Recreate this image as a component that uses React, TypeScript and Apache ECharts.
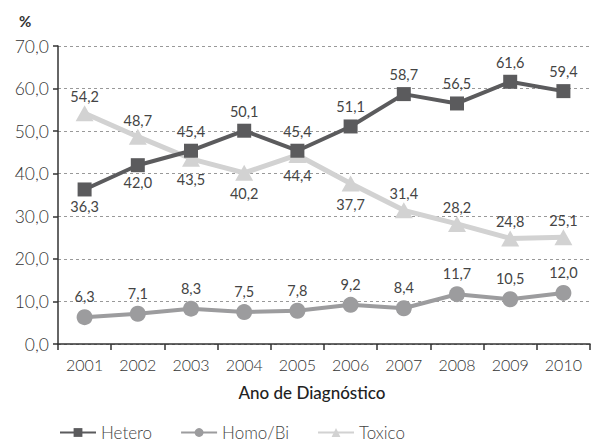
import React, { useEffect, useRef } from "react";
import * as echarts from "echarts";

const years = ["2001", "2002", "2003", "2004", "2005", "2006", "2007", "2008", "2009", "2010"];
const hetero = [36.3, 42.0, 45.4, 50.1, 45.4, 51.1, 58.7, 56.5, 61.6, 59.4];
const homoBi = [6.3, 7.1, 8.3, 7.5, 7.8, 9.2, 8.4, 11.7, 10.5, 12.0];
const toxico = [54.2, 48.7, 43.5, 40.2, 44.4, 37.7, 31.4, 28.2, 24.8, 25.1];
const heteroBelow = [true, true, false, false, false, false, false, false, false, false];
const toxicoBelow = [false, false, true, true, true, true, false, false, false, false];

const FONT = "Lato";
const LABEL_COLOR = "#444444";
const fmt = (v: number) => v.toFixed(1).replace(".", ",");

export default function App() {
  const ref = useRef<HTMLDivElement>(null);
  useEffect(() => {
    if (!ref.current) return;
    const chart = echarts.init(ref.current, null, { renderer: "svg" });
    const lbl = (position: string, distance: number) => ({
      show: true,
      position,
      distance,
      color: LABEL_COLOR,
      textBorderWidth: 0,
      fontSize: 14.5,
      fontFamily: FONT,
      fontWeight: "normal" as any,
    });
    const labelBase = {
      show: true,
      color: LABEL_COLOR,
      fontSize: 14.5,
      fontFamily: FONT,
      formatter: (p: any) => fmt(p.value),
    };
    chart.setOption({
      animation: false,
      backgroundColor: "#ffffff",
      textStyle: { fontFamily: FONT },
      grid: { left: 58, right: 1, top: 46, bottom: 104, containLabel: false },
      title: {
        text: "%",
        left: 14,
        top: 8,
        textStyle: { fontSize: 15, fontWeight: "bold", color: "#333", fontFamily: FONT },
      },
      graphic: [
        {
          type: "text",
          x: 312,
          y: 392,
          style: {
            text: "Ano de Diagnóstico",
            fontSize: 17,
            fontFamily: FONT,
            fontWeight: 500 as any,
            fill: "#222",
            align: "center",
            verticalAlign: "middle",
          },
        },
      ],
      legend: {
        bottom: 2,
        left: 54,
        itemWidth: 36,
        itemHeight: 11,
        itemGap: 28,
        textStyle: { fontSize: 17, color: "#444", fontFamily: FONT, fontWeight: 300 as any },
        data: ["Hetero", "Homo/Bi", "Toxico"],
      },
      xAxis: {
        type: "category",
        data: years,
        boundaryGap: true,
        axisLine: { lineStyle: { color: "#333", width: 1.5 } },
        axisTick: { show: true, length: 6, lineStyle: { color: "#333", width: 1.5 } },
        axisLabel: { fontSize: 16, color: "#333", fontFamily: FONT, fontWeight: 300 as any, margin: 12 },
      },
      yAxis: {
        type: "value",
        min: 0,
        max: 70,
        interval: 10,
        axisLine: { show: true, lineStyle: { color: "#333", width: 1.5 } },
        axisTick: { show: true, length: 5, inside: false, lineStyle: { color: "#333", width: 1.5 } },
        axisLabel: { fontSize: 17.5, color: "#333", fontFamily: FONT, fontWeight: 300 as any, margin: 9, formatter: (v: number) => fmt(v) },
        splitLine: { lineStyle: { color: "#999", type: [3, 3], width: 1 } },
      },
      series: [
        {
          name: "Hetero",
          type: "line",
          data: hetero.map((v, i) => ({
            value: v,
            label: heteroBelow[i] ? lbl("bottom", 3) : lbl("top", 5),
          })),
          symbol: "rect",
          symbolSize: 14,
          lineStyle: { color: "#5b5b5d", width: 4 },
          itemStyle: { color: "#5b5b5d" },
          label: labelBase,
          z: 4,
        },
        {
          name: "Homo/Bi",
          type: "line",
          data: homoBi.map((v) => ({ value: v, label: lbl("top", 5) })),
          symbol: "circle",
          symbolSize: 16,
          lineStyle: { color: "#9c9c9e", width: 4 },
          itemStyle: { color: "#9c9c9e" },
          label: labelBase,
          z: 3,
        },
        {
          name: "Toxico",
          type: "line",
          data: toxico.map((v, i) => ({
            value: v,
            label: toxicoBelow[i] ? lbl("bottom", 5) : lbl("top", 1),
          })),
          symbol: "triangle",
          symbolSize: [18, 16],
          lineStyle: { color: "#d2d2d2", width: 5 },
          itemStyle: { color: "#d2d2d2" },
          label: labelBase,
          z: 2,
        },
      ],
    });
    return () => chart.dispose();
  }, []);
  return <div ref={ref} style={{ width: 591, height: 448, position: "absolute", left: 0, top: 0 }} />;
}
